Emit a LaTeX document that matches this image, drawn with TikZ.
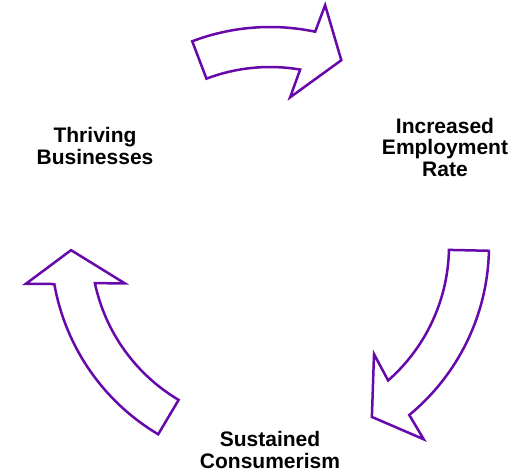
\documentclass[tikz,border=0pt]{standalone}
\usepackage{fontspec}
\setmainfont{Liberation Sans}
\usetikzlibrary{calc}
\definecolor{cyclepurple}{RGB}{102,8,170}
\tikzset{
  cyclelabel/.style={align=center, font=\fontsize{21}{21.5}\selectfont\bfseries, inner sep=0pt},
  cyclearrow/.style={draw=cyclepurple, fill=white, line width=2.5pt, line join=miter}
}
\begin{document}
\begin{tikzpicture}[x=1pt,y=1pt]
\useasboundingbox (0,0) rectangle (528,472);
\coordinate (hub) at (270,226);
\node[cyclelabel] (business) at (95,326) {Thriving\\Businesses};
\node[cyclelabel] (employment) at (445,325) {Increased\\Employment\\Rate};
\node[cyclelabel] (consumer) at (270,22) {Sustained\\Consumerism};
\foreach \t / \o / \i / \p / \q / \r in {110.8/78.1/80.3/77.1/69.0/82.3,
  -1.25/-50.5/-48.7/-51.5/-59.2/-46.1, 239.3/190.0/192.0/188.8/181.2/194.4} {
\draw[cyclearrow] ($(hub)+(\t:219)$) arc[start angle=\t, end angle=\o, radius=219]
  -- ($(hub)+(\p:247)$) -- ($(hub)+(\q:199)$) -- ($(hub)+(\r:150)$)
  -- ($(hub)+(\i:179)$) arc[start angle=\i, end angle=\t, radius=179] -- cycle;
}
\end{tikzpicture}
\end{document}
